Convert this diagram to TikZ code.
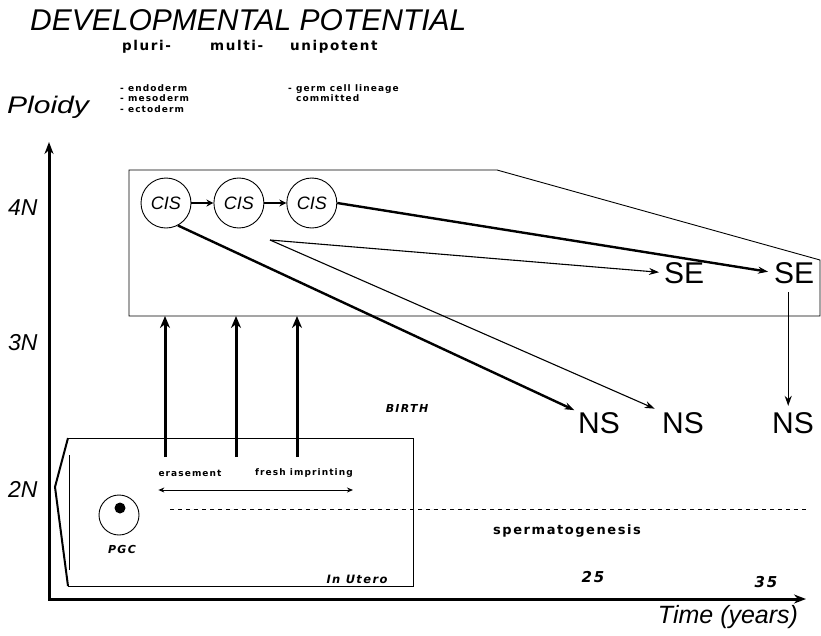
\documentclass[tikz,border=0pt]{standalone}
\usepackage{fontspec}
\setmainfont{Liberation Sans}
\newfontfamily\spaced[LetterSpace=12]{DejaVu Sans}
\usetikzlibrary{arrows.meta, positioning}

\begin{document}
\begin{tikzpicture}[
    x=1pt, y=-1pt,
    node distance=22pt,
    cis/.style={circle, draw, line width=0.9pt, minimum size=50pt, inner sep=0pt, font=\itshape\fontsize{18}{20}\selectfont},
    big/.style={font=\fontsize{30}{32}\selectfont, inner sep=0pt, anchor=base west},
    axislbl/.style={font=\itshape\fontsize{23}{25}\selectfont, inner sep=0pt, anchor=base west},
    head/.style={font=\spaced\bfseries\fontsize{13.5}{16}\selectfont, inner sep=0pt, anchor=base west},
    small/.style={font=\spaced\bfseries\fontsize{9}{10.5}\selectfont, inner sep=0pt, align=left, anchor=north west},
    note/.style={font=\spaced\bfseries\itshape\fontsize{11}{13}\selectfont, inner sep=0pt},
    plain/.style={font=\spaced\bfseries\fontsize{9}{11}\selectfont, inner sep=0pt},
    box/.style={draw, line width=0.9pt},
    arrow/.style={->, >={Stealth[length=10pt, width=7pt]}, line width=2.4pt},
    thinarrow/.style={->, >={Stealth[length=10pt, width=7pt]}, line width=1.1pt},
    steparrow/.style={->, >={Stealth[length=7pt, width=7pt]}, line width=2pt},
    uparrow/.style={->, >={Stealth[length=12pt, width=10pt]}, line width=3pt}
]
\useasboundingbox (0,0) rectangle (821,635);

% Title and potency headings
\node[anchor=base west, inner sep=0pt, font=\itshape\fontsize{30}{32}\selectfont] (title) at (30,30) {DEVELOPMENTAL POTENTIAL};
\node[head] (pluri) at (122,50) {pluri-};
\node[head] (multi) at (210,50) {multi-};
\node[head] (uni) at (290,50) {unipotent};
\node[small] (layers) at (120,84) {- endoderm\\- mesoderm\\- ectoderm};
\node[small] (germ) at (288,84) {- germ cell lineage\\\phantom{- }committed};

% Axes
\draw[line width=3pt, {Stealth[length=12pt, width=9pt]}-{Stealth[length=12pt, width=9pt]}] (49,142) -- (49,599) -- (806,599);
\node[anchor=base west, inner sep=0pt] (ploidy) at (7,113) {\scalebox{1.25}[1]{\itshape\fontsize{24}{26}\selectfont Ploidy}};
\node[axislbl] (n4) at (8,215) {4N};
\node[axislbl] (n3) at (8,350) {3N};
\node[axislbl] (n2) at (8,497) {2N};
\node[font=\itshape\fontsize{25}{27}\selectfont, inner sep=0pt] (time) at (728,617) {Time (years)};

% 4N compartment
\draw[box] (129,170) -- (497,170) -- (820,260) -- (820,316) -- (129,316) -- cycle;
\coordinate (top4n) at (129,316);

% In utero compartment
\draw[box] (68,438) -- (413,438) -- (413,586) -- (68,586);
\draw[line width=2pt] (68,438) -- (55,487) -- (68,586);
\draw[line width=0.8pt] (69,455) -- (69,570);

% CIS cells
\node[cis] (cis1) at (166,203) {CIS};
\node[cis, right=of cis1] (cis2) {CIS};
\node[cis, right=of cis2] (cis3) {CIS};
\draw[steparrow] (cis1) -- (cis2);
\draw[steparrow] (cis2) -- (cis3);

% Outcomes
\node[big] (se1) at (664,283) {SE};
\node[big] (se2) at (774,283) {SE};
\node[big] (ns1) at (578,433) {NS};
\node[big] (ns2) at (662,433) {NS};
\node[big] (ns3) at (772,433) {NS};

\coordinate (fork) at (270,240);
\draw[arrow, shorten >=4pt] (cis1.-62) -- (ns1.north west);
\draw[arrow, shorten >=6pt] (cis3.east) -- (se2.west);
\draw[thinarrow, shorten >=5pt] (fork) -- (se1.west);
\draw[thinarrow, shorten >=8pt] (fork) -- (ns2.north west);
\draw[thinarrow, line width=1.4pt, shorten <=9pt, shorten >=6pt] ([xshift=-6pt]se2.south) -- ([xshift=-6pt]se2.south |- ns3.north);

% Transitions from the germ line
\foreach \x [count=\i] in {165,236,297} {
    \coordinate (src\i) at (\x,457);
    \draw[uparrow] (src\i) -- (src\i |- top4n);
}
\node[plain] (erase) at (190,473) {erasement};
\node[plain] (imprint) at (304,473) {fresh imprinting};
\coordinate (span) at (0,490);
\draw[<->, >={Stealth[length=6pt, width=5pt]}, line width=1pt] (erase.west |- span) -- (imprint.east |- span);

% PGC
\node[circle, draw, line width=0.9pt, minimum size=40pt, inner sep=0pt] (pgc) at (119,515) {};
\node[circle, fill, minimum size=11pt, inner sep=0pt] (nucleus) at (120,508) {};
\node[note] (pgclbl) at (122,549) {PGC};
\node[note, font=\spaced\bfseries\itshape\fontsize{11.5}{14}\selectfont] (utero) at (357,579) {In Utero};

% Spermatogenesis and time marks
\draw[line width=0.9pt, dash pattern=on 4pt off 4pt] (170,509) -- (808,509);
\node[note] (birth) at (407,408) {BIRTH};
\node[plain, font=\spaced\bfseries\fontsize{13}{15}\selectfont] (spermato) at (567,531) {spermatogenesis};
\node[note, font=\spaced\bfseries\itshape\fontsize{15}{18}\selectfont] (y25) at (593,577) {25};
\node[note, font=\spaced\bfseries\itshape\fontsize{15}{18}\selectfont] (y35) at (766,582) {35};

\end{tikzpicture}
\end{document}
